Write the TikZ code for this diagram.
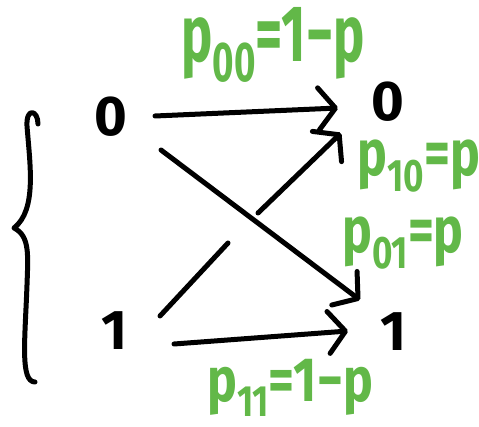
\documentclass[tikz,border=0pt]{standalone}
\usepackage{fontspec}
\setsansfont{Fira Sans}
\usetikzlibrary{arrows.meta}
\definecolor{hgreen}{RGB}{98,184,72}
\newcommand\lbsub[1]{\raisebox{-0.25em}{\scalebox{0.7}{#1}}}
\begin{document}
\begin{tikzpicture}[x=1pt,y=-1pt,
  ink/.style={line width=5pt,line cap=round,line join=round,black},
  arr/.style={ink,-{Straight Barb[round,length=17pt,width=42pt]}},
  digit/.style={inner sep=0pt,font=\sffamily\bfseries\fontsize{56}{56}\selectfont},
  glabel/.style={inner sep=0pt,text=hgreen,font=\sffamily\bfseries\fontsize{50}{50}\selectfont}]
\useasboundingbox (0,0) rectangle (479,427);
% brace
\draw[ink] (38,124) .. controls (38,110) and (26,107) .. (27,126)
  .. controls (30,165) and (37,210) .. (14,228)
  .. controls (30,236) and (28,255) .. (27,285)
  .. controls (25,340) and (20,382) .. (35,382);
% digits
\node[digit] (a0) at (111,117) {0};
\node[digit] (a1) at (114,331) {1};
\node[digit] (b0) at (388,102) {0};
\node[digit] (b1) at (393,332) {1};
% endpoints
\coordinate (s00) at (155,116); \coordinate (e00) at (338,108);
\coordinate (s01) at (161,150); \coordinate (e01) at (360,300);
\coordinate (s10) at (160,316); \coordinate (g1) at (228,243);
\coordinate (g2) at (258,213); \coordinate (e10) at (341,133);
\coordinate (s11) at (174,344); \coordinate (e11) at (348,331);
\draw[arr] (s00) -- (e00);
\draw[arr] (s01) -- (e01);
\draw[ink] (s10) -- (g1);
\draw[arr] (g2) -- (e10);
\draw[arr] (s11) -- (e11);
% labels
\node[glabel] (l00) at (273,45) {\scalebox{1.05}[1.6]{p\lbsub{00}=1−p}};
\node[glabel] (l10) at (419,166) {\scalebox{1}[1.3]{p\lbsub{10}=p}};
\node[glabel] (l01) at (403,243) {\scalebox{1}[1.3]{p\lbsub{01}=p}};
\node[glabel] (l11) at (290,388) {\scalebox{1}[1.25]{p\lbsub{11}=1−p}};
\end{tikzpicture}
\end{document}
